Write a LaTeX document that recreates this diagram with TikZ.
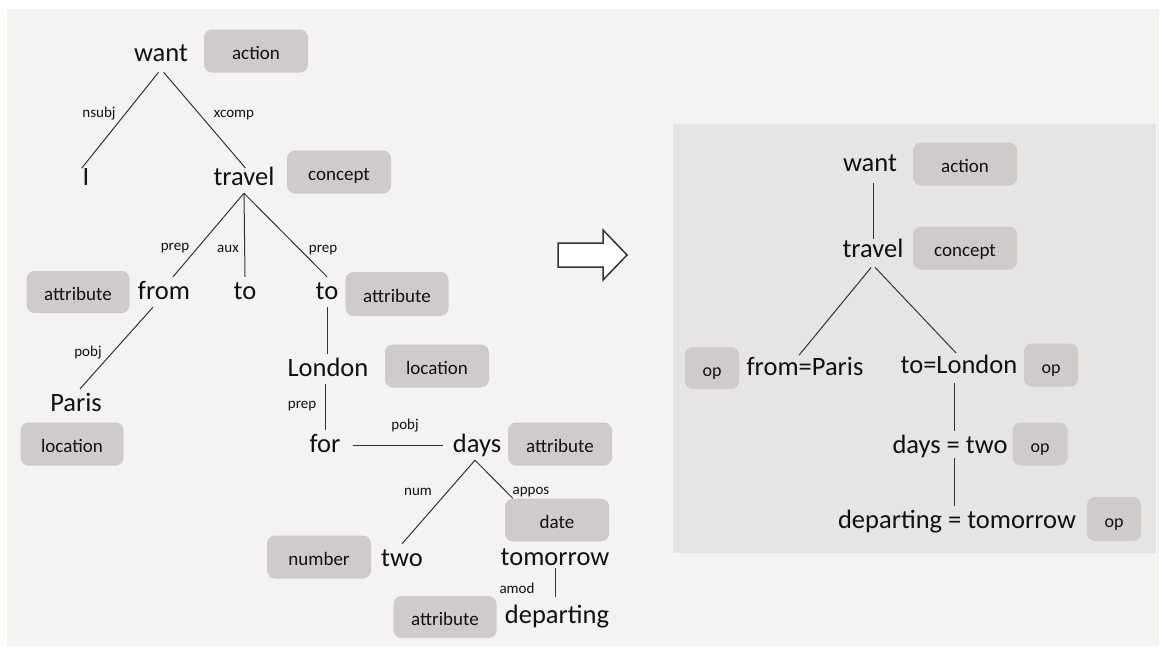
\documentclass[tikz,border=0pt]{standalone}
\usepackage{fontspec}
\setmainfont{Carlito}
\usetikzlibrary{calc}
\definecolor{bgc}{HTML}{F3F3F2}
\definecolor{panelc}{HTML}{E5E5E5}
\definecolor{boxc}{HTML}{CFCBCA}
\definecolor{linec}{HTML}{333333}
\definecolor{txt}{HTML}{111111}
\tikzset{
 word/.style={font=\fontsize{26.5}{30}\selectfont, anchor=base, inner xsep=0pt, inner ysep=8pt, text height=14pt, text depth=0pt, text=txt},
 lbl/.style={font=\fontsize{15}{18}\selectfont, anchor=base, inner sep=0pt, text=txt},
 tag/.style={fill=boxc, rounded corners=8pt, minimum width=104pt, minimum height=43pt, inner sep=0pt, font=\fontsize{19}{22}\selectfont, text height=18pt, text depth=2pt, text=txt},
 optag/.style={tag, minimum width=54pt, font=\fontsize{18}{22}\selectfont},
 edge/.style={draw=linec, line width=1pt},
}
\begin{document}
\begin{tikzpicture}[x=1pt,y=-1pt]
\useasboundingbox (0,0) rectangle (1161,646);
\fill[white] (0,0) rectangle (1161,646);
\fill[bgc] (7,9) rectangle (1159,646);
\fill[panelc] (673,124) rectangle (1156,553);
% arrow
\draw[fill=white, draw=linec, line width=1.5pt, line join=miter]
 (558,243) -- (603,243) -- (603,230) -- (627,255) -- (603,280) -- (603,267) -- (558,267) -- cycle;

% ===== left tree: words =====
\node[word] (want) at (161,61) {want};
\node[word] (I) at (86,185) {I};
\node[word] (travel) at (244,185) {travel};
\node[word] (from) at (164,299) {from};
\node[word] (toA) at (245,299) {to};
\node[word] (toB) at (327,299) {to};
\node[word] (Paris) at (76,411) {Paris};
\node[word] (London) at (328,376) {London};
\node[word] (for) at (325,452) {for};
\node[word] (days) at (477,452) {days};
\node[word] (two) at (402,566) {two};
\node[word] (tomorrow) at (555,565) {tomorrow};
\node[word] (departing) at (557,623) {departing};

% tags
\node[tag] (tAction) at (256,51) {action};
\node[tag] (tConcept) at (339,172) {concept};
\node[tag, minimum width=103pt, minimum height=42pt] (tAttr1) at (78,292) {attribute};
\node[tag, minimum width=103pt, minimum height=44pt] (tAttr2) at (397,294) {attribute};
\node[tag, minimum width=103pt] (tLoc1) at (72,444) {location};
\node[tag] (tLoc2) at (437,366) {location};
\node[tag] (tAttr3) at (560,444) {attribute};
\node[tag] (date) at (557,520) {date};
\node[tag] (tNum) at (319,557) {number};
\node[tag, minimum width=103pt, minimum height=42pt] (tAttr4) at (445,617) {attribute};

% edge labels
\node[lbl] (lNsubj) at (99,117) {nsubj};
\node[lbl] (lXcomp) at (234,117) {xcomp};
\node[lbl] (lPrep1) at (175,250) {prep};
\node[lbl] (lAux) at (228,252) {aux};
\node[lbl] (lPrep2) at (323,252) {prep};
\node[lbl] (lPobj1) at (88,356) {pobj};
\node[lbl] (lPrep3) at (302,408) {prep};
\node[lbl] (lPobj2) at (405,429) {pobj};
\node[lbl] (lNum) at (418,495) {num};
\node[lbl] (lAppos) at (531,494) {appos};
\node[lbl] (lAmod) at (517,593) {amod};

% edges
\draw[edge, shorten <=4pt, shorten >=-7pt] (want.south) -- (I.north);
\draw[edge, shorten <=4pt, shorten >=-7pt] (want.south) -- ($(travel.north)+(-3,0)$);
\draw[edge] (travel.south) -- ($(from.north)+(9,0)$);
\draw[edge] (travel.south) -- (toA.north);
\draw[edge] (travel.south) -- (toB.north);
\draw[edge] ($(from.south)+(-11,0)$) -- ($(Paris.north)+(4,0)$);
\draw[edge] (toB.south) -- (London.north -| toB.south);
\draw[edge] (London.south -| for.north) -- (for.north);
\draw[edge, shorten <=12pt, shorten >=10pt] (for.east) -- (days.west);
\draw[edge] ($(days.south)+(-2,0)$) -- (two.north);
\draw[edge] ($(days.south)+(-2,0)$) -- ($(date.north west)+(8,0)$);
\draw[edge, shorten <=-5pt, shorten >=4pt] (tomorrow.south) -- (departing.north -| tomorrow.south);

% ===== right tree =====
\node[word] (rwant) at (870,171) {want};
\node[word] (rtravel) at (873,257) {travel};
\node[word] (rfrom) at (805,375) {from=Paris};
\node[word] (rto) at (959,373) {to=London};
\node[word] (rdays) at (950,453) {days = two};
\node[word] (rdep) at (957,528) {departing = tomorrow};

\node[tag] (rAction) at (965,164) {action};
\node[tag] (rConcept) at (965,248) {concept};
\node[optag, minimum height=42pt] (rOp1) at (712,368) {op};
\node[optag] (rOp2) at (1051,365) {op};
\node[optag, minimum width=55pt] (rOp3) at (1040,444) {op};
\node[optag, minimum height=44pt] (rOp4) at (1114,519) {op};

\draw[edge, shorten <=4pt, shorten >=-4pt] (rwant.south -| rtravel.north) -- (rtravel.north);
\draw[edge, shorten <=3pt, shorten >=-3pt] (rtravel.south) -- ($(rfrom.north)+(-4,0)$);
\draw[edge, shorten <=3pt, shorten >=-3pt] (rtravel.south) -- ($(rto.north)+(-5,0)$);
\draw[edge, shorten <=2pt] ($(rto.south)+(-5,0)$) -- ($(rdays.north)+(4,0)$);
\draw[edge, shorten <=-3pt] ($(rdays.south)+(4,0)$) -- ($(rdep.north)+(-3,0)$);
\end{tikzpicture}
\end{document}
